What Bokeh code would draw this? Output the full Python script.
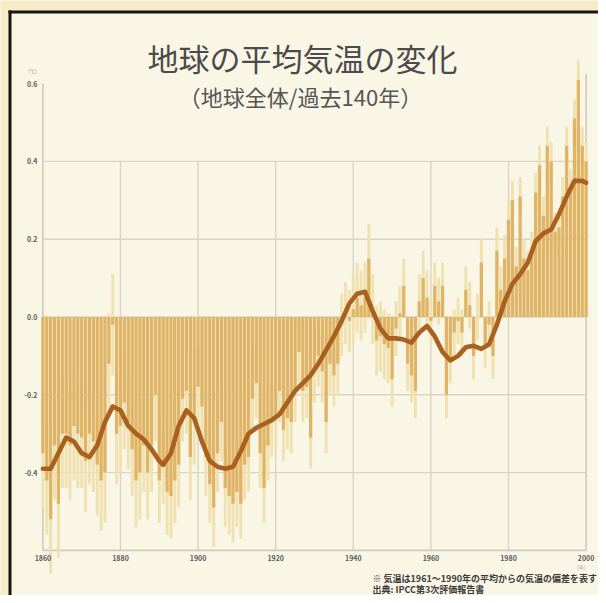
from bokeh.plotting import figure
from bokeh.models import Range1d
from bokeh.core.properties import value
from bokeh.embed import file_html
from bokeh.resources import INLINE

# ---------------- data ----------------
years = list(range(1860, 2001))
anomaly = [
    -0.35, -0.42, -0.52, -0.33, -0.48, -0.30, -0.30, -0.33, -0.28, -0.30,
    -0.31, -0.37, -0.30, -0.32, -0.38, -0.42, -0.40, -0.12, -0.02, -0.30,
    -0.28, -0.22, -0.27, -0.34, -0.42, -0.40, -0.33, -0.40, -0.33, -0.20,
    -0.42, -0.37, -0.45, -0.46, -0.42, -0.38, -0.21, -0.19, -0.36, -0.27,
    -0.18, -0.23, -0.36, -0.43, -0.49, -0.35, -0.27, -0.44, -0.46, -0.48,
    -0.45, -0.48, -0.38, -0.36, -0.21, -0.17, -0.35, -0.44, -0.33, -0.27,
    -0.26, -0.19, -0.29, -0.26, -0.27, -0.19, -0.09, -0.19, -0.18, -0.31,
    -0.14, -0.10, -0.14, -0.27, -0.12, -0.15, -0.12, -0.02, 0.01, -0.01,
    0.02, 0.05, 0.03, 0.05, 0.15, 0.02, -0.06, -0.05, -0.07, -0.08,
    -0.16, -0.03, 0.01, 0.08, -0.12, -0.15, -0.19, 0.04, 0.10, 0.05,
    -0.01, 0.08, 0.04, 0.08, -0.20, -0.11, -0.04, -0.01, -0.04, 0.07,
    0.03, -0.10, 0.00, 0.14, -0.07, -0.02, -0.10, 0.17, 0.07, 0.15,
    0.25, 0.30, 0.13, 0.31, 0.15, 0.12, 0.17, 0.32, 0.39, 0.26,
    0.44, 0.40, 0.22, 0.23, 0.31, 0.44, 0.33, 0.51, 0.61, 0.44,
    0.40,
]
# half-width of the pale uncertainty bars, per decade (1860s ... 2000)
uncert_by_decade = [0.14, 0.13, 0.12, 0.11, 0.10, 0.09, 0.08, 0.08,
                    0.09, 0.07, 0.06, 0.06, 0.05, 0.05, 0.05]

smooth_years = [1860, 1862, 1864, 1866, 1868, 1870, 1872, 1874, 1876, 1878,
                1880, 1882, 1884, 1886, 1888, 1890, 1891, 1893, 1895, 1897,
                1899, 1901, 1903, 1905, 1907, 1909, 1911, 1913, 1915, 1917,
                1919, 1921, 1923, 1925, 1927, 1929, 1931, 1933, 1935, 1937,
                1939, 1941, 1943, 1945, 1947, 1949, 1951, 1953, 1955, 1957,
                1959, 1961, 1963, 1965, 1967, 1969, 1971, 1973, 1975, 1977,
                1979, 1981, 1983, 1985, 1987, 1989, 1991, 1993, 1995, 1997,
                1999, 2000]
smooth_vals = [-0.39, -0.39, -0.35, -0.31, -0.32, -0.35, -0.36, -0.33, -0.27, -0.23,
               -0.24, -0.28, -0.30, -0.315, -0.34, -0.37, -0.38, -0.35, -0.28, -0.24,
               -0.26, -0.32, -0.37, -0.385, -0.39, -0.385, -0.345, -0.30, -0.285, -0.275,
               -0.265, -0.25, -0.22, -0.19, -0.17, -0.15, -0.12, -0.085, -0.05, -0.01,
               0.035, 0.06, 0.065, 0.015, -0.03, -0.055, -0.055, -0.058, -0.066, -0.04,
               -0.023, -0.05, -0.09, -0.112, -0.10, -0.078, -0.074, -0.082, -0.07, -0.02,
               0.04, 0.085, 0.11, 0.14, 0.195, 0.215, 0.225, 0.264, 0.31, 0.35,
               0.35, 0.345]

x_ticks = [1860, 1880, 1900, 1920, 1940, 1960, 1980, 2000]
y_ticks = [-0.4, -0.2, 0.0, 0.2, 0.4, 0.6]
y_grid = [-0.4, -0.2, 0.0, 0.2, 0.4]

title_text = "地球の平均気温の変化"
subtitle_text = "（地球全体/過去140年）"
unit_y = "(℃)"
unit_x = "(年)"
note_lines = ["※ 気温は1961～1990年の平均からの気温の偏差を表す",
              "出典: IPCC第3次評価報告書"]

# ---------------- styling / layout ----------------
BG = "#faf6e6"
PAGE = "#f6ebc5"
BAR = "#e0b466"
PALE = "#f0e1b0"
LINE = "#a8611f"
GRID = "#d9d4c6"
TICK = "#5a5a5a"
FONT = "Noto Sans CJK JP"

W, H = 598, 595
# reference pixel anchors of the data frame
PX_1860, PX_2000 = 42.4, 585.6
PY_ZERO, PX_PER_UNIT = 316.5, 389.0
px_per_year = (PX_2000 - PX_1860) / 140.0

X0 = 1860 - PX_1860 / px_per_year
X1 = X0 + W / px_per_year
Y1 = PY_ZERO / PX_PER_UNIT
Y0 = Y1 - H / PX_PER_UNIT


def dx(px):
    return X0 + px / px_per_year


def dy(py):
    return Y1 - py / PX_PER_UNIT


p = figure(width=W, height=H, x_range=Range1d(X0, X1), y_range=Range1d(Y0, Y1),
           output_backend="svg", toolbar_location=None,
           x_axis_location=None, y_axis_location=None,
           min_border=0, min_border_left=0, min_border_right=0,
           min_border_top=0, min_border_bottom=0,
           background_fill_color=BG, border_fill_color=BG,
           outline_line_color=None)
for g in p.grid:
    g.visible = False

# page surround and black frame of the board
p.quad(left=[dx(0), dx(0)], right=[dx(8), dx(W)], top=[dy(0), dy(0)],
       bottom=[dy(H), dy(10)], fill_color=PAGE, line_color=None)
p.quad(left=[dx(8), dx(8)], right=[dx(11), dx(W)], top=[dy(10), dy(10)],
       bottom=[dy(H), dy(13)], fill_color="#151515", line_color=None)

# grid lines (behind the bars)
p.segment(x0=x_ticks[1:-1], x1=x_ticks[1:-1], y0=-0.6, y1=0.4,
          line_color=GRID, line_width=1.4)
p.segment(x0=x_ticks[0], x1=x_ticks[-1], y0=y_grid, y1=y_grid,
          line_color=GRID, line_width=1.4)
p.segment(x0=[x_ticks[0], x_ticks[-1]], x1=[x_ticks[0], x_ticks[-1]],
          y0=[-0.6, -0.6], y1=[0.6, 0.625], line_color="#cfcabc", line_width=1.6)
p.segment(x0=x_ticks[0], x1=x_ticks[-1], y0=-0.6, y1=-0.6,
          line_color="#cfcabc", line_width=1.6)

# bars: pale uncertainty range, then the anomaly itself
lo, hi = [], []
for yr, v in zip(years, anomaly):
    e = uncert_by_decade[(yr - 1860) // 10]
    lo.append(v - e)
    hi.append(v + e)
p.vbar(x=years, bottom=lo, top=hi, width=0.75, fill_color=PALE, line_color=None)
p.vbar(x=years, bottom=0, top=anomaly, width=0.85, fill_color=BAR, line_color=None)

p.line(smooth_years, smooth_vals, line_color=LINE, line_width=4.6,
       line_join="round", line_cap="round")

# tick labels
p.text(x=x_ticks, y=[dy(557)] * len(x_ticks), text=[str(t) for t in x_ticks],
       text_font=value(FONT), text_font_size="7px", text_font_style="bold",
       text_color=TICK, text_align="center", text_baseline="middle")
p.text(x=[dx(37)] * len(y_ticks), y=y_ticks, text=["%.1f" % t for t in y_ticks],
       text_font=value(FONT), text_font_size="7px", text_font_style="bold",
       text_color=TICK, text_align="right", text_baseline="middle")

# titles and notes
p.text(x=[dx(302)], y=[dy(57)], text=[title_text], text_font=value(FONT),
       text_font_size="31px", text_color="#4b4b4b", text_align="center",
       text_baseline="middle")
p.text(x=[dx(300)], y=[dy(95)], text=[subtitle_text], text_font=value(FONT),
       text_font_size="22px", text_color="#555555", text_align="center",
       text_baseline="middle")
p.text(x=[dx(32), dx(581)], y=[dy(70), dy(566)], text=[unit_y, unit_x],
       text_font=value(FONT), text_font_size="5px", text_color="#9a9a9a",
       text_align="center", text_baseline="middle")
p.text(x=[dx(372)] * len(note_lines), y=[dy(578), dy(589)], text=note_lines,
       text_font=value(FONT), text_font_size="9px", text_font_style="bold",
       text_color="#3a3a3a", text_align="left", text_baseline="middle")

open("out.html", "w").write(file_html(p, INLINE))
